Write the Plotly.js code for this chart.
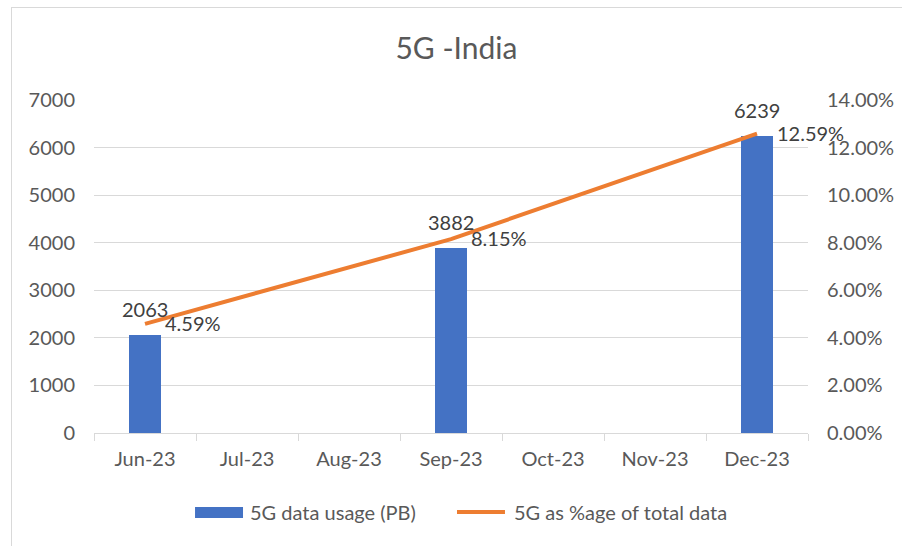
<!DOCTYPE html>
<html>
<head>
<meta charset="utf-8">
<script src="https://cdn.plot.ly/plotly-3.0.1.min.js"></script>
<style>
  html, body { margin: 0; padding: 0; background: #fff; overflow: hidden; }
  #wrap { position: relative; width: 902px; height: 546px; }
  #chart { width: 902px; height: 546px; }
  #frame { position: absolute; left: 11px; top: 7px; width: 1000px; height: 1000px;
           border: 1px solid #d9d9d9; pointer-events: none; }
</style>
</head>
<body>
<div id="wrap"><div id="chart"></div><div id="frame"></div></div>
<script>
// Data
const months = ["Jun-23", "Jul-23", "Aug-23", "Sep-23", "Oct-23", "Nov-23", "Dec-23"];
const dataMonths = ["Jun-23", "Sep-23", "Dec-23"];
const usagePB = [2063, 3882, 6239];
const sharePct = [0.0459, 0.0815, 0.1259];
const usageLabels = ["2063", "3882", "6239"];
const shareLabels = ["4.59%", "8.15%", "12.59%"];
const seriesNames = ["5G data usage (PB)", "5G as %age of total data"];
const leftTicks = [0, 1000, 2000, 3000, 4000, 5000, 6000, 7000];
const rightTicks = [0, 0.02, 0.04, 0.06, 0.08, 0.10, 0.12, 0.14];
const rightTickText = ["0.00%", "2.00%", "4.00%", "6.00%", "8.00%", "10.00%", "12.00%", "14.00%"];

const FONT = "Lato, 'Open Sans', sans-serif";
const GREY = "#595959";
const BLUE = "#4472C4";
const ORANGE = "#ED7D31";

const traces = [
  {
    type: "bar", name: seriesNames[0],
    x: dataMonths, y: usagePB,
    marker: { color: BLUE }, width: 0.31,
    hoverinfo: "skip", showlegend: false
  },
  {
    type: "scatter", mode: "lines", name: seriesNames[1],
    x: dataMonths, y: sharePct, yaxis: "y2",
    line: { color: ORANGE, width: 4 },
    hoverinfo: "skip", showlegend: false
  }
];

const annotations = [];
dataMonths.forEach((m, i) => {
  annotations.push({
    x: m, y: usagePB[i], xref: "x", yref: "y",
    text: usageLabels[i], showarrow: false,
    xanchor: "center", yanchor: "bottom", yshift: 12,
    font: { family: FONT, size: 20, color: "#404040" }
  });
  annotations.push({
    x: m, y: sharePct[i], xref: "x", yref: "y2",
    text: shareLabels[i], showarrow: false,
    xanchor: "left", yanchor: "middle", xshift: 18, yshift: 1,
    font: { family: FONT, size: 20, color: "#404040" }
  });
});

// Legend drawn as shapes + annotations (Excel-style wide swatches)
const legY = -0.2372;
annotations.push({
  x: 0.2157, y: legY, xref: "paper", yref: "paper", text: seriesNames[0],
  showarrow: false, xanchor: "left", yanchor: "middle",
  font: { family: FONT, size: 20, color: GREY }
});
annotations.push({
  x: 0.5854, y: legY, xref: "paper", yref: "paper", text: seriesNames[1],
  showarrow: false, xanchor: "left", yanchor: "middle",
  font: { family: FONT, size: 20, color: GREY }
});
const shapes = [
  { type: "rect", xref: "paper", yref: "paper", x0: 0.1415, x1: 0.2087, y0: -0.2553, y1: -0.2222,
    fillcolor: BLUE, line: { width: 0 } },
  { type: "line", xref: "paper", yref: "paper", x0: 0.5084, x1: 0.5756, y0: legY, y1: legY,
    line: { color: ORANGE, width: 4 } }
];

const layout = {
  width: 902, height: 546,
  margin: { l: 94, r: 94, t: 100, b: 113 },
  paper_bgcolor: "#fff", plot_bgcolor: "#fff",
  font: { family: FONT, size: 20, color: GREY },
  title: { text: "5G -India", x: 0.506, xanchor: "center", y: 0.912, yanchor: "middle",
           font: { family: FONT, size: 30, color: GREY } },
  showlegend: false,
  xaxis: {
    type: "category", categoryorder: "array", categoryarray: months,
    range: [-0.5, 6.5],
    showline: true, linecolor: "#d9d9d9", linewidth: 1,
    ticks: "outside", tickson: "boundaries", ticklen: 7, tickcolor: "#d9d9d9",
    showgrid: false, zeroline: false,
    tickfont: { family: FONT, size: 20, color: GREY },
    ticklabelstandoff: 8
  },
  yaxis: {
    range: [0, 7000], tickvals: leftTicks, ticktext: leftTicks.map(String),
    showgrid: true, gridcolor: "#d9d9d9", gridwidth: 1,
    zeroline: false, showline: false, ticks: "",
    tickfont: { family: FONT, size: 20, color: GREY },
    ticklabelstandoff: 18
  },
  yaxis2: {
    overlaying: "y", side: "right",
    range: [0, 0.14], tickvals: rightTicks, ticktext: rightTickText,
    showgrid: false, zeroline: false, showline: false, ticks: "",
    tickfont: { family: FONT, size: 20, color: GREY },
    ticklabelstandoff: 18
  },
  annotations: annotations,
  shapes: shapes,
  bargap: 0
};

Plotly.newPlot("chart", traces, layout, { displayModeBar: false, staticPlot: true });
</script>
</body>
</html>
